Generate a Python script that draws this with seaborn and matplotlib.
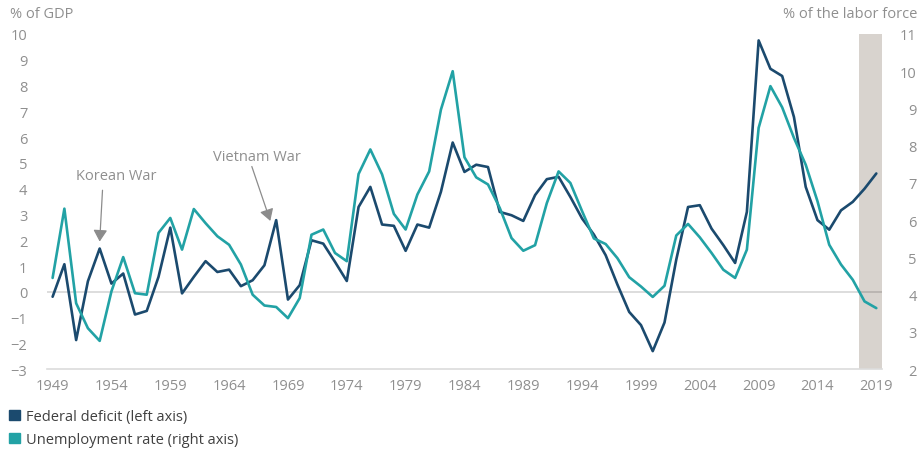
import numpy as np
import pandas as pd
import seaborn as sns
import matplotlib
matplotlib.use('Agg')
import matplotlib.pyplot as plt
from matplotlib.patches import Patch

# ====================== 数据 ======================
years = list(range(1949, 2020))
# 联邦赤字 (% of GDP, 左轴)
deficit = [-0.19, 1.07, -1.87, 0.41, 1.68, 0.32, 0.71, -0.88, -0.74, 0.58,
           2.49, -0.06, 0.58, 1.19, 0.77, 0.86, 0.22, 0.45, 1.03, 2.78,
           -0.30, 0.26, 2.00, 1.87, 1.16, 0.42, 3.29, 4.07, 2.61, 2.56,
           1.59, 2.61, 2.49, 3.88, 5.79, 4.65, 4.93, 4.84, 3.10, 2.97,
           2.75, 3.75, 4.37, 4.46, 3.68, 2.84, 2.22, 1.42, 0.28, -0.78,
           -1.29, -2.30, -1.19, 1.25, 3.29, 3.36, 2.45, 1.81, 1.12, 3.10,
           9.75, 8.65, 8.37, 6.78, 4.07, 2.78, 2.41, 3.16, 3.49, 4.00,
           4.59]
# 失业率 (% of the labor force, 右轴)
unemployment = [4.45, 6.31, 3.77, 3.10, 2.76, 4.09, 5.01, 4.04, 4.00, 5.66,
                6.06, 5.21, 6.30, 5.92, 5.57, 5.34, 4.81, 4.00, 3.71, 3.67,
                3.37, 3.91, 5.61, 5.75, 5.12, 4.90, 7.24, 7.90, 7.23, 6.17,
                5.75, 6.69, 7.31, 8.97, 10.00, 7.69, 7.15, 6.96, 6.33, 5.52,
                5.18, 5.33, 6.46, 7.31, 7.00, 6.24, 5.51, 5.36, 4.98, 4.47,
                4.22, 3.94, 4.24, 5.59, 5.90, 5.54, 5.12, 4.67, 4.45, 5.21,
                8.48, 9.60, 9.03, 8.21, 7.49, 6.51, 5.34, 4.81, 4.40, 3.82,
                3.64]
xticks = list(range(1949, 2020, 5))
left_ticks = list(range(-3, 11))
right_ticks = list(range(2, 12))
band = (2017.5, 2019.5)

C_DEF = "#1b4a6e"
C_UNEMP = "#22a2a5"
C_TEXT = "#8f8f8f"

df = pd.DataFrame({"year": years, "deficit": deficit, "unemployment": unemployment})

# ====================== 画图 ======================
sns.set_style("white")
plt.rcParams['font.family'] = ['Open Sans', 'DejaVu Sans']

fig = plt.figure(figsize=(9.18, 4.52), dpi=100)
ax = fig.add_axes([0.0509, 0.181, 0.961 - 0.0509, 0.9226 - 0.181])
ax2 = ax.twinx()

ax.axvspan(band[0], band[1], color="#d8d3ce", lw=0, zorder=0)
ax.axhline(0, color="black", alpha=0.16, lw=1.2, zorder=1)

sns.lineplot(data=df, x="year", y="deficit", ax=ax, color=C_DEF, lw=1.9, zorder=3)
sns.lineplot(data=df, x="year", y="unemployment", ax=ax2, color=C_UNEMP, lw=1.9, zorder=3)

ax.set_xlim(1948.5, 2019.5)
ax.set_ylim(-3, 10)
ax2.set_ylim(2, 11)
ax.set_xticks(xticks)
ax.set_yticks(left_ticks)
ax2.set_yticks(right_ticks)
ax.set_xlabel("")
ax.set_ylabel("")
ax2.set_ylabel("")

for a in (ax, ax2):
    for s in a.spines.values():
        s.set_visible(False)
ax.spines["bottom"].set_visible(True)
ax.spines["bottom"].set_color("#dcdcdc")
ax.spines["bottom"].set_linewidth(1.2)

ax.tick_params(axis="x", length=0, pad=6, labelsize=10.5, labelcolor=C_TEXT)
ax.tick_params(axis="y", length=0, pad=14, labelsize=10.5, labelcolor=C_TEXT)
ax2.tick_params(axis="y", length=0, pad=25, labelsize=10.5, labelcolor=C_TEXT)
for lab in ax2.get_yticklabels():
    lab.set_horizontalalignment("right")

fig.text(10 / 918, 1 - 15 / 452, "% of GDP", ha="left", va="center", fontsize=10.5, color=C_TEXT)
fig.text(917 / 918, 1 - 15 / 452, "% of the labor force", ha="right", va="center", fontsize=10.5, color=C_TEXT)

# 注释
arrow = dict(arrowstyle="-|>,head_length=0.5,head_width=0.3", color="#8c8c8c", lw=0.9,
             mutation_scale=14, shrinkA=0, shrinkB=0)
ax.annotate("", xy=(1953.0, 1.95), xytext=(1953.24, 3.94), arrowprops=arrow)
ax.text(1954.4, 4.51, "Korean War", ha="center", va="center", fontsize=10.5, color=C_TEXT)
ax.annotate("", xy=(1967.5, 2.75), xytext=(1965.93, 4.86), arrowprops=arrow)
ax.text(1966.36, 5.24, "Vietnam War", ha="center", va="center", fontsize=10.5, color=C_TEXT)

handles = [Patch(color=C_DEF, label="Federal deficit (left axis)"),
           Patch(color=C_UNEMP, label="Unemployment rate (right axis)")]
fig.legend(handles=handles, loc="upper left", bbox_to_anchor=(9 / 918, 1 - 410 / 452),
           frameon=False, fontsize=10.5, handlelength=0.75, handleheight=0.75,
           handletextpad=0.4, labelspacing=0.55, borderpad=0, borderaxespad=0,
           labelcolor="#404040")

fig.savefig("out.png", dpi=100)
plt.close()
